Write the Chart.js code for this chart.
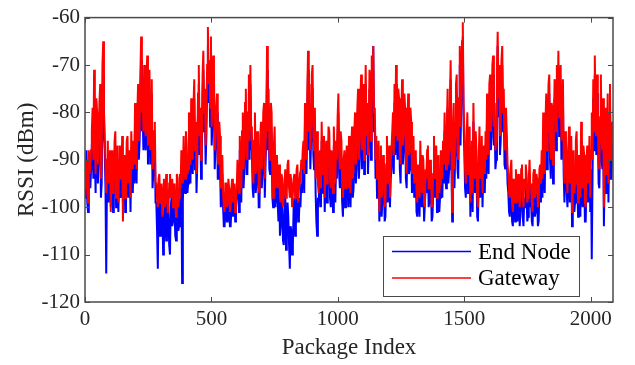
<!DOCTYPE html>
<html>
<head>
<meta charset="utf-8">
<script src="https://cdn.jsdelivr.net/npm/chart.js@4"></script>
<style>
  html, body { margin: 0; padding: 0; background: #ffffff; }
  #wrap { width: 635px; height: 365px; position: relative; }
</style>
</head>
<body>
<div id="wrap"><canvas id="rssi"></canvas></div>
<script>
// Packages are sampled every INDEX_STEP indices along the x axis.
const INDEX_STEP = 3;
const X_MAX = 2088;
const X_TICKS = [0, 500, 1000, 1500, 2000];
const Y_TICKS = [-120, -110, -100, -90, -80, -70, -60];
const SERIES_NAMES = ['End Node', 'Gateway'];

// RSSI received at the gateway (dBm)
const gatewayRssi = [
  -96,-92,-90,-97,-99,-88,-93,-91,
  -88,-84,-79,-90,-71,-85,-93,-77,-80,-91,-86,-78,-74,-94,-89,-70,-65,-80,
  -84,-91,
  -97,-90,-86,-95,-93,-88,-101,-91,-88,-97,-95,-86,-84,-98,-92,-87,-99,-90,-87,-94,-94,-85,-103,-92,-89,-98,-96,-86,-85,-95,-93,-88,-98,-84,-90,-92,
  -86,-91,-78,-88,-92,-80,-74,-86,-83,-72,-64,-80,-76,-84,-70,-82,-85,-74,-68,-87,-79,-71,-88,-80,-73,-92,-90,-84,-82,-95,
  -95,-98,-100,-94,-93,-99,-98,-95,-102,-96,-94,-100,-99,-93,-96,-101,-101,-95,-93,-98,-97,-94,-100,-96,-95,-99,-102,-93,-94,-100,-98,-93,-96,-88,
  -90,-95,-85,-92,-94,-84,-87,-93,-92,-80,
  -84,-91,-77,-86,-90,-79,-73,-88,-82,-93,-88,-76,-70,-85,-79,-90,-86,-72,-67,-80,-75,-87,-81,-70,-62,-74,-69,-79,-64,-83,-78,-68,-72,-88,
  -83,-79,-76,-90,-91,-82,-85,-96,-95,-89,
  -97,-100,-101,-95,-95,-100,-99,-94,-96,-101,-100,-96,-94,-99,-98,-95,-101,-97,-96,-90,
  -92,-97,-85,-93,-96,-84,-80,-92,-88,-78,-75,-89,-90,-80,-72,-86,-70,-83,
  -84,-92,-95,-86,-80,-93,-91,-84,-86,-96,-97,-85,-82,-92,-89,-80,-78,-94,-87,-81,
  -66,-84,-75,-88,-90,-78,-80,-94,-98,-87,-83,-96,-93,-89,
  -96,-92,-91,-98,-99,-93,-94,-100,-100,-95,-92,-98,-97,-91,-90,-96,-98,-93,-95,-100,-100,-94,-93,-98,-97,-92,-91,-99,-99,-94,-95,-90,-92,-88,
  -86,-93,-78,-87,-90,-76,-67,-84,-74,-88,-82,-72,-70,-85,-88,-79,
  -94,-87,-84,-95,-97,-89,-88,-96,-82,-92,-93,-85,-98,-90,-86,-95,-91,-83,-84,-94,-96,-88,-89,-97,-83,-91,-95,-86,-90,-81,-76,-89,-92,-84,-86,-95,-98,-90,-88,-96,-95,-87,
  -90,-96,-85,-92,-97,-88,-83,-94,-92,-84,
  -80,-91,-88,-79,-75,-90,-86,-77,-72,-88,-81,-74,-90,-82,-70,-85,-78,-89,-84,-71,-73,-86,-68,-77,-66,-80,-79,-90,-85,-94,
  -92,-86,-101,-93,-87,-98,-96,-89,-90,-100,-99,-91,-85,-95,-94,-87,-98,-90,-88,-84,
  -80,-89,-74,-85,-70,-81,-86,-75,-77,-88,-91,-80,-73,-87,-84,-76,-79,-90,-93,-83,-76,-89,-88,-79,-82,-93,-90,-85,
  -95,-90,-88,-97,-99,-91,-92,-98,-86,-94,-97,-89,-90,-99,-100,-92,-94,-88,-87,-96,-96,-90,-91,-100,-99,-93,-85,-94,-93,-87,-98,-92,-89,-97,-95,-88,-90,-94,-86,-91,
  -80,-89,-92,-83,-75,-91,-88,-78,-69,-86,-101,-84,-78,-92,-85,-74,-72,-88,-90,-77,-66,-83,-74,-65,-61,-78,
  -84,-92,-95,-86,-80,-93,-91,-83,-99,-89,-86,-97,-78,-88,-94,-84,-88,-98,-100,-90,-83,-94,-92,-85,-97,-89,-87,-93,
  -84,-90,-76,-86,-89,-74,-72,-84,-81,-70,-68,-83,-78,-88,-86,-71,-63,-77,-70,-85,-82,-69,-66,-80,-75,-87,-88,-79,-79,-91,
  -93,-97,-98,-92,-90,-99,-101,-94,-95,-99,-92,-97,-99,-93,-94,-100,-97,-92,-91,-98,-100,-94,-96,-91,-93,-99,-98,-94,-90,-96,-95,-99,-101,-93,-92,-98,-97,-93,-94,-100,-99,-92,-91,-95,
  -88,-94,-80,-90,-93,-82,-76,-88,-85,-74,-72,-86,-90,-78,-79,-91,-83,-73,-74,-84,-70,-79,-67,-81,-78,-70,-86,-76,-73,-89,-95,-84,
  -86,-93,-97,-88,-83,-95,-92,-85,-101,-90,-88,-97,-95,-86,-84,-92,-99,-89,-90,-98,-82,-93,-96,-87,-89,-99,-100,-91,-87,-95,-93,-85,-98,-88,
  -80,-90,-73,-84,-68,-79,-85,-72,-78,-91,-92,-81,-72,-86,-88,-77,-100,-89,-79,-93,-86,-76,-95,-84,-74,-90,-90,-82,-84
];

// RSSI received at the end node (dBm)
const endNodeRssi = [
  -98,-93,-88,-99,-101,-90,-94,-96,
  -92,-87,-84,-94,-78,-89,-97,-82,-86,-95,-90,-83,-81,-98,-95,-76,-72,-85,
  -88,-96,
  -114,-93,-90,-99,-96,-91,-100,-94,-92,-101,-98,-90,-87,-100,-95,-91,-101,-94,-90,-98,-97,-89,-99,-95,-93,-101,-100,-90,-88,-98,-96,-92,-101,-88,-94,-97,
  -90,-95,-82,-92,-95,-84,-78,-90,-86,-76,-69,-84,-80,-88,-74,-86,-88,-78,-71,-91,-83,-75,-91,-84,-76,-96,-93,-88,-86,-99,
  -99,-105,-113,-98,-96,-106,-104,-99,-100,-110,-108,-101,-97,-107,-105,-98,-102,-108,-110,-100,-98,-104,-103,-99,-100,-106,-107,-98,-97,-105,-104,-98,-101,-93,
  -116,-99,-90,-96,-97,-88,-92,-97,-95,-84,
  -88,-95,-81,-90,-93,-83,-77,-92,-86,-97,-91,-80,-74,-89,-83,-94,-89,-76,-71,-84,-79,-91,-85,-74,-66,-78,-73,-83,-69,-87,-82,-72,-76,-92,
  -87,-83,-80,-94,-94,-86,-90,-100,-98,-93,
  -100,-104,-104,-99,-97,-103,-103,-98,-99,-104,-104,-100,-96,-102,-101,-98,-103,-100,-98,-94,
  -95,-101,-88,-97,-99,-87,-84,-96,-92,-82,-79,-93,-93,-84,-76,-90,-74,-87,
  -88,-96,-98,-90,-84,-97,-95,-88,-90,-100,-100,-89,-86,-96,-93,-84,-82,-98,-91,-85,
  -71,-88,-79,-92,-93,-82,-85,-98,-100,-91,-88,-100,-96,-93,
  -99,-103,-95,-106,-104,-98,-100,-107,-108,-101,-97,-109,-106,-99,-102,-108,-113,-104,-105,-110,-108,-100,-98,-106,-104,-97,-96,-103,-102,-98,-100,-95,-97,-92,
  -90,-97,-82,-91,-93,-80,-71,-88,-79,-92,-86,-76,-75,-89,-92,-83,
  -97,-103,-106,-98,-100,-93,-92,-100,-86,-96,-97,-89,-101,-94,-90,-99,-95,-87,-88,-98,-100,-92,-93,-101,-87,-95,-99,-90,-94,-85,-80,-93,-96,-88,-90,-99,-102,-94,-92,-100,-98,-91,
  -94,-100,-89,-96,-100,-92,-87,-98,-96,-88,
  -84,-95,-92,-83,-79,-94,-90,-81,-76,-92,-85,-78,-93,-86,-74,-89,-82,-93,-88,-75,-77,-90,-72,-81,-66,-84,-83,-94,-89,-98,
  -96,-90,-103,-97,-91,-102,-99,-93,-94,-103,-102,-95,-89,-99,-97,-91,-100,-94,-92,-88,
  -84,-93,-78,-89,-74,-85,-90,-79,-81,-92,-95,-84,-77,-91,-88,-80,-83,-94,-96,-87,-80,-93,-92,-83,-86,-97,-94,-89,
  -98,-94,-92,-101,-102,-95,-96,-102,-90,-98,-100,-93,-94,-103,-103,-96,-97,-92,-91,-100,-99,-94,-95,-103,-102,-97,-89,-98,-96,-91,-101,-96,-93,-101,-98,-92,-94,-98,-90,-95,
  -84,-93,-96,-87,-79,-95,-92,-82,-73,-90,-103,-88,-82,-96,-89,-78,-76,-92,-94,-81,-70,-87,-78,-69,-64,-82,
  -88,-96,-98,-90,-84,-97,-95,-87,-102,-93,-90,-101,-82,-92,-97,-88,-92,-102,-103,-94,-87,-98,-96,-89,-100,-93,-91,-97,
  -88,-94,-80,-90,-93,-78,-76,-88,-85,-74,-72,-87,-82,-92,-90,-75,-66,-81,-74,-89,-86,-73,-70,-84,-79,-91,-92,-83,-83,-95,
  -97,-101,-102,-96,-94,-103,-104,-98,-99,-103,-96,-101,-103,-97,-98,-104,-101,-96,-95,-102,-104,-98,-100,-95,-97,-103,-102,-98,-94,-100,-99,-103,-104,-97,-96,-102,-101,-97,-98,-104,-103,-96,-95,-99,
  -92,-98,-84,-94,-97,-86,-80,-92,-89,-78,-76,-90,-94,-82,-83,-95,-87,-77,-78,-88,-74,-83,-71,-85,-82,-74,-90,-80,-77,-93,-99,-88,
  -90,-97,-100,-92,-87,-99,-96,-89,-104,-94,-92,-101,-99,-90,-88,-96,-102,-93,-94,-102,-86,-97,-100,-91,-93,-103,-103,-95,-91,-99,-97,-89,-101,-92,
  -111,-94,-77,-88,-72,-83,-89,-76,-82,-95,-96,-85,-76,-90,-92,-81,-104,-93,-83,-97,-90,-80,-99,-88,-78,-94,-94,-86,-88
];

const toPoints = arr => arr.map((v, i) => ({ x: i * INDEX_STEP, y: v }));

const BLUE = '#0000ff';
const RED = '#ff0000';
const AXIS_COLOR = '#4a4a4a';
const TEXT_COLOR = '#262626';
const SERIF = "'Liberation Serif', 'Times New Roman', serif";

// Box around the axes with inward ticks on all four sides
const axesBox = {
  id: 'axesBox',
  afterDraw(chart) {
    const { ctx, chartArea: a, scales } = chart;
    const tl = 5;
    ctx.save();
    ctx.strokeStyle = AXIS_COLOR;
    ctx.lineWidth = 1.5;
    ctx.strokeRect(a.left, a.top, a.right - a.left, a.bottom - a.top);
    ctx.lineWidth = 1;
    ctx.beginPath();
    scales.x.ticks.forEach(t => {
      const px = Math.round(scales.x.getPixelForValue(t.value)) + 0.5;
      ctx.moveTo(px, a.bottom); ctx.lineTo(px, a.bottom - tl);
      ctx.moveTo(px, a.top); ctx.lineTo(px, a.top + tl);
    });
    scales.y.ticks.forEach(t => {
      const py = Math.round(scales.y.getPixelForValue(t.value)) + 0.5;
      ctx.moveTo(a.left, py); ctx.lineTo(a.left + tl, py);
      ctx.moveTo(a.right, py); ctx.lineTo(a.right - tl, py);
    });
    ctx.stroke();
    ctx.restore();
  }
};

// Legend box in the lower right corner of the plot
const boxLegend = {
  id: 'boxLegend',
  afterDraw(chart) {
    const { ctx } = chart;
    const x0 = 383, y0 = 236, w = 196, h = 60;
    const rows = [
      { label: SERIES_NAMES[0], color: BLUE, y: 251.5, base: 258.5 },
      { label: SERIES_NAMES[1], color: RED, y: 278, base: 285 }
    ];
    ctx.save();
    ctx.fillStyle = '#ffffff';
    ctx.fillRect(x0, y0, w, h);
    ctx.strokeStyle = AXIS_COLOR;
    ctx.lineWidth = 1;
    ctx.strokeRect(x0 + 0.5, y0 + 0.5, w, h);
    rows.forEach(r => {
      ctx.strokeStyle = r.color;
      ctx.lineWidth = 1.5;
      ctx.beginPath();
      ctx.moveTo(392, r.y); ctx.lineTo(471, r.y);
      ctx.stroke();
      ctx.fillStyle = '#000000';
      ctx.font = '23px ' + SERIF;
      ctx.textAlign = 'left';
      ctx.textBaseline = 'alphabetic';
      ctx.fillText(r.label, 478, r.base);
    });
    ctx.restore();
  }
};

new Chart(document.getElementById('rssi'), {
  type: 'line',
  data: {
    datasets: [
      { label: SERIES_NAMES[0], data: toPoints(endNodeRssi), borderColor: BLUE, borderWidth: 2, pointRadius: 0, tension: 0, order: 1 },
      { label: SERIES_NAMES[1], data: toPoints(gatewayRssi), borderColor: RED, borderWidth: 2, pointRadius: 0, tension: 0, order: 0 }
    ]
  },
  options: {
    responsive: true,
    maintainAspectRatio: false,
    animation: false,
    layout: { padding: { left: 0, right: 22, top: 10, bottom: 0 } },
    plugins: { legend: { display: false }, tooltip: { enabled: false } },
    scales: {
      x: {
        type: 'linear',
        min: 0,
        max: X_MAX,
        afterBuildTicks: s => { s.ticks = X_TICKS.map(v => ({ value: v })); },
        afterFit: s => { s.height = 63; },
        grid: { display: false, drawTicks: false },
        border: { display: false },
        ticks: { padding: 5, color: TEXT_COLOR, font: { family: SERIF, size: 21 }, maxRotation: 0, callback: v => String(v) },
        title: { display: true, text: 'Package Index', color: TEXT_COLOR, font: { family: SERIF, size: 23 }, padding: { top: 0, bottom: 3 } }
      },
      y: {
        type: 'linear',
        min: -120,
        max: -60,
        afterBuildTicks: s => { s.ticks = Y_TICKS.map(v => ({ value: v })); },
        afterFit: s => { s.width = 85; },
        grid: { display: false, drawTicks: false },
        border: { display: false },
        ticks: { padding: 5, color: TEXT_COLOR, font: { family: SERIF, size: 21 }, callback: v => String(v) },
        title: { display: true, text: 'RSSI (dBm)', color: TEXT_COLOR, font: { family: SERIF, size: 23 }, padding: { top: 13, bottom: 0 } }
      }
    }
  },
  plugins: [axesBox, boxLegend]
});
</script>
</body>
</html>
